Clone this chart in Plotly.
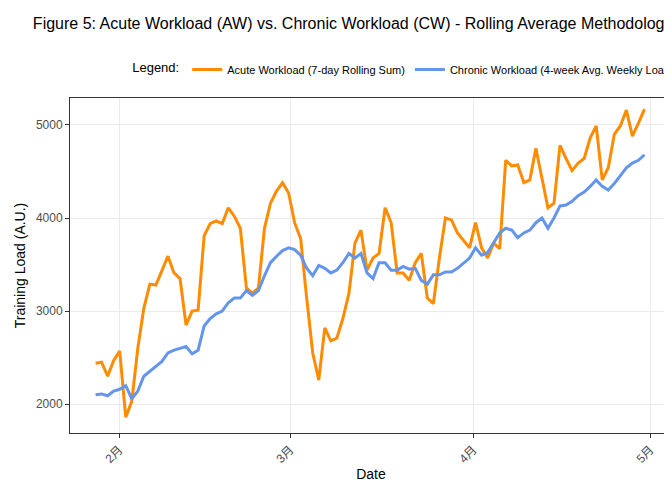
import pandas as pd
import plotly.graph_objects as go

start_date = "2024-01-28"
end_date = "2024-04-30"
aw_values = [2440,2450,2300,2470,2570,1860,2030,2600,3030,3290,3280,3440,3590,3410,3350,2850,3000,3010,
             3810,3940,3970,3940,4110,4020,3890,3250,3190,3250,3890,4160,4290,4380,4270,3950,3780,3140,
             2550,2260,2820,2680,2710,2920,3190,3730,3870,3440,3570,3620,4110,3950,3410,3410,3330,3520,
             3620,3140,3080,3570,4000,3980,3840,3760,3680,3950,3680,3570,3730,3670,4620,4560,4570,4380,
             4410,4750,4430,4110,4160,4780,4640,4510,4590,4640,4860,4990,4410,4540,4900,4990,5160,4880,
             5020,5170]
cw_values = [2100,2110,2090,2140,2160,2200,2060,2140,2300,2350,2410,2460,2550,2580,2600,2620,2540,2580,
             2840,2920,2970,3000,3090,3140,3140,3220,3170,3220,3380,3520,3590,3650,3680,3660,3600,3460,
             3380,3490,3460,3410,3440,3520,3620,3570,3620,3410,3350,3520,3520,3440,3440,3480,3450,3460,
             3330,3290,3390,3390,3420,3420,3460,3520,3570,3680,3600,3630,3730,3840,3890,3870,3790,3840,
             3870,3950,4000,3890,4000,4130,4140,4180,4240,4280,4340,4410,4340,4300,4370,4450,4540,4590,
             4620,4680]
tick_dates = ["2024-02-01", "2024-03-01", "2024-04-01", "2024-05-01"]
tick_labels = ["2月", "3月", "4月", "5月"]

aw_dates = pd.date_range(start_date, end_date, periods=len(aw_values))
cw_dates = pd.date_range(start_date, end_date, periods=len(cw_values))

FONT = "Liberation Sans, Arial, Noto Sans CJK SC, sans-serif"
fig = go.Figure()
fig.add_trace(go.Scatter(x=aw_dates, y=aw_values, mode="lines", name="Acute Workload (7-day Rolling Sum)",
                         line=dict(color="#FF8C00", width=3)))
fig.add_trace(go.Scatter(x=cw_dates, y=cw_values, mode="lines", name="Chronic Workload (4-week Avg. Weekly Load)",
                         line=dict(color="#6495ED", width=3)))
fig.update_layout(
    width=672, height=480, paper_bgcolor="white", plot_bgcolor="white",
    font=dict(family=FONT, color="black"),
    margin=dict(l=62, r=8, t=90, b=55, autoexpand=False),
    title=dict(text="Figure 5: Acute Workload (AW) vs. Chronic Workload (CW) - Rolling Average Methodology",
               x=0.037, xanchor="left", y=0.98, yanchor="top", font=dict(size=16)),
    legend=dict(orientation="h", x=0.1, xanchor="left", y=1.085, yanchor="middle",
                title=dict(text="Legend:", font=dict(size=13)), font=dict(size=11),
                tracegroupgap=0, itemwidth=30),
    xaxis=dict(range=["2024-01-23 16:00", "2024-05-04 16:00"], tickvals=tick_dates, ticktext=tick_labels,
               tickangle=-45, tickfont=dict(size=12, color="#4d4d4d"), showgrid=True, gridcolor="#ebebeb",
               showline=True, linecolor="#333333", mirror=True, ticks="outside", tickcolor="#333333", ticklen=4,
               automargin=False, title=dict(text="Date", font=dict(size=14), standoff=4)),
    yaxis=dict(range=[1690, 5290], tickvals=[2000, 3000, 4000, 5000], tickfont=dict(size=12, color="#4d4d4d"),
               showgrid=True, gridcolor="#ebebeb", showline=True, linecolor="#333333", mirror=True,
               ticks="outside", tickcolor="#333333", ticklen=4, zeroline=False, automargin=False,
               title=dict(text="Training Load (A.U.)", font=dict(size=14), standoff=6)),
)
fig.write_html("out.html")
